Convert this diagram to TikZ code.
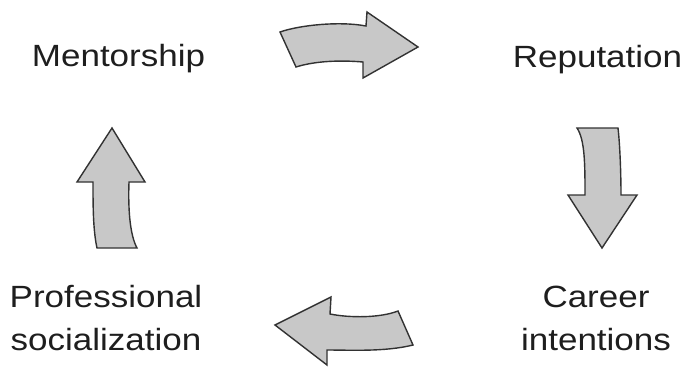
\documentclass[tikz,border=0pt]{standalone}
\usepackage{fontspec}
\newfontfamily\labfont[FakeStretch=1.14]{Liberation Sans}
\definecolor{arrowfill}{RGB}{200,200,200}
\definecolor{arrowline}{RGB}{50,50,50}
\definecolor{labtext}{RGB}{30,30,30}
\begin{document}
\begin{tikzpicture}[x=1pt,y=-1pt,
  lab/.style={font=\labfont\fontsize{30.7}{43}\selectfont, text=labtext, align=center, anchor=base, inner sep=0pt},
  bigarrow/.style={fill=arrowfill, draw=arrowline, line width=1.4pt, line join=miter}]
\useasboundingbox (0,0) rectangle (685,367);
\node[lab] (ment) at (118.5,66) {Mentorship};
\node[lab] (rep) at (597.5,67) {Reputation};
\node[lab] (car) at (596,350) {Career\\intentions};
\node[lab] (prof) at (106,350) {Professional\\socialization};
% top arrow (Mentorship -> Reputation)
\path[bigarrow] (280,32) .. controls (300,25) and (340,21) .. (366,26) -- (367,12) -- (418,47) -- (363,78) -- (363,62) .. controls (340,60) and (315,61) .. (296,67) -- cycle;
% right arrow (Reputation -> Career intentions)
\path[bigarrow] (577,128) -- (618,128) .. controls (620,145) and (621,175) .. (621,195) -- (637,195) -- (602,248) -- (568,195) -- (585,195) .. controls (585,165) and (585,140) .. (577,128) -- cycle;
% bottom arrow (Career intentions -> Professional socialization)
\path[bigarrow] (275,325) -- (331,297) -- (330,314) .. controls (350,318) and (380,318) .. (398,311) -- (413,345) .. controls (385,352) and (350,350) .. (327,350) -- (327,365) -- cycle;
% left arrow (Professional socialization -> Mentorship)
\path[bigarrow] (112,128) -- (145,182) -- (129,182) .. controls (128,210) and (130,235) .. (137,248) -- (97,248) .. controls (93,230) and (93,205) .. (93,182) -- (77,182) -- cycle;
\end{tikzpicture}
\end{document}
